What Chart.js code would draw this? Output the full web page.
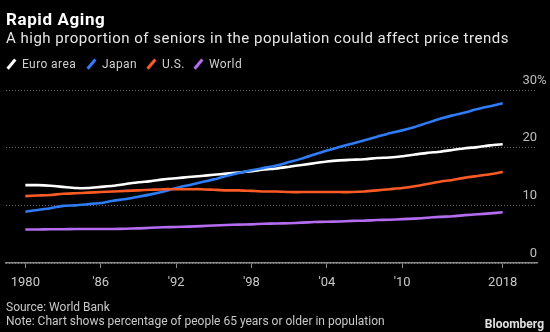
<!DOCTYPE html>
<html>
<head>
<meta charset="utf-8">
<script src="https://cdn.jsdelivr.net/npm/chart.js@4.4.0/dist/chart.umd.min.js"></script>
<style>
  body { margin: 0; background: #000; }
  #wrap { position: relative; width: 550px; height: 332px; background: #000; overflow: hidden;
          font-family: Roboto, "Liberation Sans", sans-serif; }
  #graf { position: absolute; left: 0; top: 0; }
  .txt { position: absolute; left: 6px; white-space: nowrap; }
  #title { top: 9px; font-size: 17px; line-height: 20px; font-weight: bold; color: #fff; letter-spacing: 0.6px; }
  #subtitle { top: 29px; font-size: 15px; line-height: 18px; color: #e6e6e6; letter-spacing: 0.5px; }
  .leg { position: absolute; top: 57px; font-size: 12px; line-height: 14px; color: #d0d0d0; white-space: nowrap; letter-spacing: 0.4px; }
  .leg i { position: absolute; top: 1px; width: 2.6px; height: 12px; transform: rotate(40deg); }
  #source { top: 300px; font-size: 12px; line-height: 14px; color: #c8c8c8; }
  #note { top: 314px; font-size: 12px; line-height: 14px; color: #c8c8c8; }
  #brand { position: absolute; right: 6px; top: 317px; font-size: 12px; line-height: 14px; font-weight: bold; color: #e0e0e0; }
</style>
</head>
<body>
<div id="wrap">
  <canvas id="graf" width="550" height="332"></canvas>
  <div class="txt" id="title">Rapid Aging</div>
  <div class="txt" id="subtitle">A high proportion of seniors in the population could affect price trends</div>
  <div id="legend"></div>
  <div class="txt" id="source">Source: World Bank</div>
  <div class="txt" id="note">Note: Chart shows percentage of people 65 years or older in population</div>
  <div id="brand">Bloomberg</div>
</div>
<script>
// anos (eixo x)
var anos = [1980, 1981, 1982, 1983, 1984, 1985, 1986, 1987, 1988, 1989,
            1990, 1991, 1992, 1993, 1994, 1995, 1996, 1997, 1998, 1999,
            2000, 2001, 2002, 2003, 2004, 2005, 2006, 2007, 2008, 2009,
            2010, 2011, 2012, 2013, 2014, 2015, 2016, 2017, 2018];

// % da população com 65 anos ou mais
var euroArea = [13.5, 13.5, 13.4, 13.2, 13.0, 13.0, 13.2, 13.4, 13.7, 14.0,
                14.2, 14.5, 14.7, 14.9, 15.1, 15.3, 15.5, 15.7, 15.9, 16.2,
                16.4, 16.7, 17.0, 17.3, 17.6, 17.8, 17.9, 18.0, 18.2, 18.3,
                18.5, 18.8, 19.1, 19.3, 19.6, 19.9, 20.1, 20.4, 20.6];
var japao = [8.9, 9.2, 9.5, 9.9, 10.0, 10.2, 10.4, 10.8, 11.1, 11.5,
             11.9, 12.4, 13.0, 13.5, 14.0, 14.5, 15.1, 15.6, 16.1, 16.5,
             16.9, 17.5, 18.1, 18.8, 19.5, 20.1, 20.7, 21.3, 21.9, 22.5,
             23.0, 23.6, 24.3, 25.0, 25.6, 26.1, 26.7, 27.2, 27.7];
var eua = [11.6, 11.7, 11.8, 12.0, 12.1, 12.2, 12.3, 12.4, 12.5, 12.6,
           12.7, 12.8, 12.8, 12.8, 12.8, 12.7, 12.6, 12.6, 12.5, 12.4,
           12.4, 12.3, 12.3, 12.3, 12.3, 12.3, 12.3, 12.4, 12.6, 12.8,
           13.0, 13.3, 13.7, 14.1, 14.4, 14.8, 15.1, 15.4, 15.8];
var mundo = [5.8, 5.8, 5.85, 5.85, 5.9, 5.9, 5.9, 5.9, 5.95, 6.0,
             6.1, 6.2, 6.25, 6.3, 6.4, 6.5, 6.6, 6.65, 6.7, 6.8,
             6.85, 6.9, 7.0, 7.1, 7.15, 7.2, 7.3, 7.35, 7.45, 7.5,
             7.6, 7.7, 7.85, 8.0, 8.1, 8.3, 8.45, 8.6, 8.8];

var series = ["Euro area", "Japan", "U.S.", "World"];
var cores = ["#ffffff", "#2e7cf6", "#fa5a24", "#b56cf0"];

// rótulos do eixo x
var anosTick = [1980, 1986, 1992, 1998, 2004, 2010, 2018];
var rotulosTick = ["1980", "'86", "'92", "'98", "'04", "'10", "2018"];
var valoresY = [0, 10, 20, 30];

// legenda em HTML
function createLegend() {
    var lefts = [6, 86, 146, 193];
    var leg = document.getElementById('legend');
    series.forEach(function (nome, i) {
        var d = document.createElement('div');
        d.className = 'leg';
        d.style.left = lefts[i] + 'px';
        d.innerHTML = '<i style="left:4px;background:' + cores[i] + '"></i><span style="margin-left:16px">' + nome + '</span>';
        leg.appendChild(d);
    });
}

// rótulos do eixo y acima das linhas de grade
var yLabels = {
    id: 'yLabels',
    afterDraw: function (chart) {
        var ctx = chart.ctx, area = chart.chartArea, y = chart.scales.y;
        ctx.save();
        ctx.font = '13px Roboto';
        ctx.fillStyle = '#bdbdbd';
        ctx.textBaseline = 'alphabetic';
        y.ticks.forEach(function (t) {
            var py = y.getPixelForValue(t.value) - 6.5;
            ctx.textAlign = 'right';
            ctx.fillText(String(t.value), area.right, py);
            if (t.value === 30) {
                ctx.textAlign = 'left';
                ctx.fillText('%', area.right, py);
            }
        });
        ctx.restore();
    }
};

function createLineChart() {
    var valores = [euroArea, japao, eua, mundo];
    var ctx = document.getElementById('graf').getContext('2d');
    new Chart(ctx, {
        type: 'line',
        data: {
            datasets: series.map(function (nome, i) {
                return {
                    label: nome,
                    data: anos.map(function (a, j) { return { x: a, y: valores[i][j] }; }),
                    borderColor: cores[i],
                    borderWidth: 2.6,
                    pointRadius: 0,
                    tension: 0.2,
                    fill: false
                };
            }).reverse()
        },
        options: {
            responsive: false,
            animation: false,
            layout: { padding: { left: 6, right: 13, top: 90, bottom: 0 } },
            plugins: { legend: { display: false }, tooltip: { enabled: false } },
            scales: {
                x: {
                    type: 'linear',
                    min: 1978.46,
                    max: 2020.73,
                    afterBuildTicks: function (scale) {
                        scale.ticks = anosTick.map(function (v) { return { value: v }; });
                    },
                    afterFit: function (scale) { scale.height = 69; },
                    grid: { drawOnChartArea: false, drawTicks: true, tickLength: 5, color: '#8a8a8a', lineWidth: 1 },
                    border: { display: true, color: '#8a8a8a', width: 1.5 },
                    ticks: {
                        autoSkip: false,
                        maxRotation: 0,
                        padding: 7,
                        color: '#c8c8c8',
                        font: { family: 'Roboto', size: 13 },
                        callback: function (v) { return rotulosTick[anosTick.indexOf(v)]; }
                    }
                },
                y: {
                    position: 'right',
                    min: 0,
                    max: 30,
                    afterBuildTicks: function (scale) {
                        scale.ticks = valoresY.map(function (v) { return { value: v }; });
                    },
                    afterFit: function (scale) { scale.width = 0; },
                    grid: { drawTicks: false, color: '#6a6a6a', lineWidth: 1 },
                    border: { display: false, dash: [1, 2] },
                    ticks: { display: false }
                }
            }
        },
        plugins: [yLabels]
    });
}

document.addEventListener('DOMContentLoaded', function () {
    createLegend();
    createLineChart();
});
</script>
</body>
</html>
